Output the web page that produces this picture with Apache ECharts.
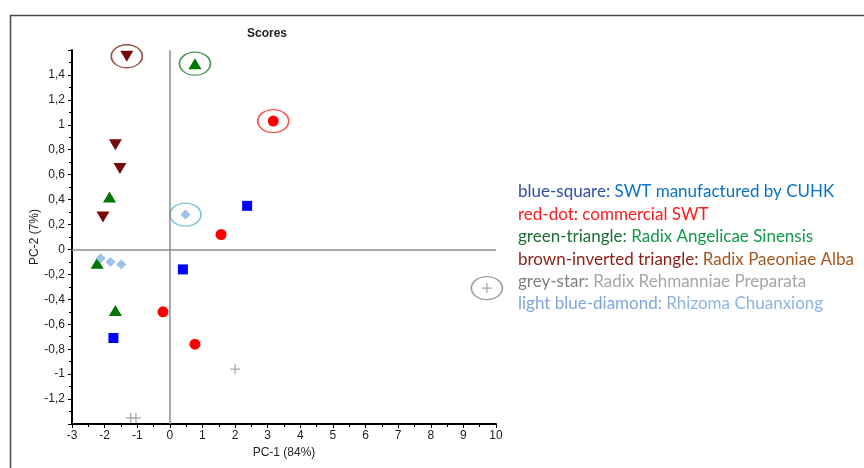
<!DOCTYPE html>
<html>
<head>
<meta charset="utf-8">
<script src="https://cdn.jsdelivr.net/npm/echarts@6/dist/echarts.min.js"></script>
<style>
  html, body { margin: 0; padding: 0; background: #fff; }
  #chart { width: 864px; height: 468px; }
</style>
</head>
<body>
<div id="chart"></div>
<script>
// PCA scores, [PC-1, PC-2]
const blueSquares = [[2.37, 0.35], [0.40, -0.16], [-1.73, -0.71]];
const redDots = [[3.17, 1.03], [1.57, 0.12], [-0.21, -0.50], [0.77, -0.76]];
const greenTriangles = [[0.77, 1.49], [-1.85, 0.42], [-2.23, -0.11], [-1.67, -0.49]];
const brownTriangles = [[-1.32, 1.55], [-1.67, 0.84], [-1.53, 0.65], [-2.05, 0.26]];
const greyStars = [[9.72, -0.31], [2.0, -0.96], [-1.2, -1.35], [-1.04, -1.35]];
const blueDiamonds = [[0.48, 0.28], [-2.12, -0.07], [-1.82, -0.10], [-1.49, -0.12]];

// which point of each group is circled
const circledIndex = { brown: 0, green: 0, red: 0, diamond: 0, grey: 0 };

const legendLines = [
  "blue-square: SWT manufactured by CUHK",
  "red-dot: commercial SWT",
  "green-triangle: Radix Angelicae Sinensis",
  "brown-inverted triangle: Radix Paeoniae Alba",
  "grey-star: Radix Rehmanniae Preparata",
  "light blue-diamond: Rhizoma Chuanxiong",
];

const plusPath = "path://M9.6,0 L12.4,0 L12.4,9.6 L22,9.6 L22,12.4 L12.4,12.4 L12.4,22 L9.6,22 L9.6,12.4 L0,12.4 L0,9.6 L9.6,9.6 Z";

const groups = {
  square: { data: blueSquares, color: "#0000ff", symbol: "rect", size: 10 },
  red: { data: redDots, color: "#ff0000", symbol: "circle", size: 11, ring: "#ff2a2a" },
  green: { data: greenTriangles, color: "#007800", symbol: "triangle", size: [13, 11], ring: "#1f7a2e" },
  brown: { data: brownTriangles, color: "#760808", symbol: "triangle", rotate: 180, size: [13, 11], ring: "#7a2a1c" },
  grey: { data: greyStars, color: "#a8a8a8", symbol: plusPath, size: 10, ring: "#8a8a8a" },
  diamond: { data: blueDiamonds, color: "#9cc2ea", symbol: "diamond", size: 10, ring: "#5bb6d2" },
};

const legendColors = [
  ["#2f4fa8", "#0a72c4"],
  ["#ff1a1a", "#ff1a1a"],
  ["#1b6e35", "#0f9a48"],
  ["#8a1f14", "#a8561e"],
  ["#808080", "#a6a6a6"],
  ["#7fa6dc", "#8eb4e3"],
];

const series = Object.keys(groups).map((key, i) => {
  const g = groups[key];
  const s = {
    type: "scatter",
    data: g.data,
    symbol: g.symbol,
    symbolSize: g.size,
    symbolRotate: g.rotate || 0,
    itemStyle: { color: g.color, opacity: 1 },
    z: 3,
  };
  if (i === 0) {
    // zero lines
    s.markLine = {
      silent: true,
      symbol: "none",
      label: { show: false },
      lineStyle: { color: "#8c8c8c", width: 1.5, type: "solid" },
      data: [{ xAxis: 0 }, { yAxis: 0 }],
    };
  }
  return s;
});

// ellipses around the highlighted points
Object.keys(circledIndex).forEach((key) => {
  const g = groups[key];
  series.push({
    type: "scatter",
    data: [g.data[circledIndex[key]]],
    symbol: "circle",
    symbolSize: [31, 23],
    itemStyle: { color: "rgba(0,0,0,0)", borderColor: g.ring, borderWidth: 1.5 },
    silent: true,
    z: 2,
  });
});

const fmt = (v) => String(Math.round(v * 10) / 10).replace(".", ",");

const chart = echarts.init(document.getElementById("chart"));
chart.setOption({
  animation: false,
  grid: { left: 72, top: 50, right: 368, bottom: 44 },
  xAxis: {
    type: "value",
    min: -3,
    max: 10,
    interval: 1,
    name: "PC-1 (84%)",
    nameLocation: "middle",
    nameGap: 23,
    nameTextStyle: { fontFamily: "Liberation Sans", fontSize: 12, color: "#222" },
    axisLine: { onZero: false, lineStyle: { color: "#000", width: 2 } },
    axisTick: { length: 4, lineStyle: { color: "#000" } },
    minorTick: { show: true, splitNumber: 2, length: 3, lineStyle: { color: "#000" } },
    splitLine: { show: false },
    axisLabel: { fontFamily: "Liberation Sans", fontSize: 12, color: "#222", margin: 6, formatter: fmt },
  },
  yAxis: {
    type: "value",
    min: -1.4,
    max: 1.6,
    interval: 0.2,
    name: "PC-2 (7%)",
    nameLocation: "middle",
    nameGap: 28,
    nameTextStyle: { fontFamily: "Liberation Sans", fontSize: 12, color: "#222" },
    axisLine: { show: true, onZero: false, lineStyle: { color: "#000", width: 2 } },
    axisTick: { show: true, length: 4, lineStyle: { color: "#000" } },
    minorTick: { show: true, splitNumber: 2, length: 3, lineStyle: { color: "#000" } },
    splitLine: { show: false },
    axisLabel: {
      fontFamily: "Liberation Sans",
      fontSize: 12,
      color: "#222",
      margin: 7,
      formatter: (v) => (v < -1.35 || v > 1.55 ? "" : fmt(v)),
    },
  },
  graphic: [
    {
      type: "rect",
      left: 8,
      top: 13,
      shape: { width: 900, height: 500 },
      style: { fill: "none", stroke: "#4a4a4a", lineWidth: 1.5 },
      silent: true,
    },
    {
      type: "text",
      x: 267,
      y: 34,
      style: {
        text: "Scores",
        fontFamily: "Liberation Sans",
        fontSize: 12,
        fontWeight: "bold",
        fill: "#222",
        align: "center",
        verticalAlign: "middle",
      },
    },
    ...legendLines.map((line, i) => {
      const cut = line.indexOf(":") + 1;
      return {
        type: "text",
        x: 518,
        y: 192 + i * 22.4,
        style: {
          text: "{a|" + line.slice(0, cut) + "}{b|" + line.slice(cut) + "}",
          verticalAlign: "middle",
          rich: {
            a: { fontFamily: "Lato", fontSize: 17, fill: legendColors[i][0], color: legendColors[i][0] },
            b: { fontFamily: "Lato", fontSize: 17, fill: legendColors[i][1], color: legendColors[i][1] },
          },
        },
      };
    }),
  ],
  series: series,
});
</script>
</body>
</html>
